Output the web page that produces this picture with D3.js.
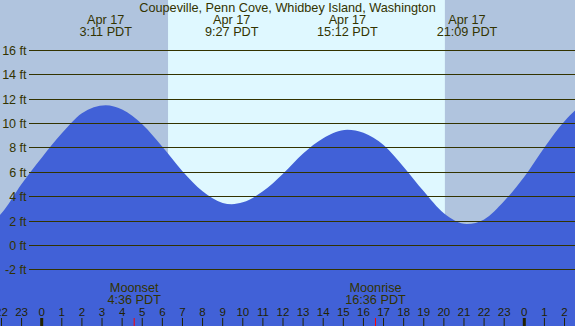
<!DOCTYPE html>
<html>
<head>
<meta charset="utf-8">
<script src="https://cdn.jsdelivr.net/npm/d3@7"></script>
<style>
  html, body { margin: 0; padding: 0; background: #fff; }
  svg { display: block; }
  text { font-family: "Liberation Sans", Arial, sans-serif; fill: #333300; }
</style>
</head>
<body>
<svg id="chart" width="575" height="326"></svg>
<script>
// ---- data (hours relative to Apr 17 00:00 PDT, heights in ft) ----
const title = "Coupeville, Penn Cove, Whidbey Island, Washington";
const hours   = [-3, -2, -1, 0, 1, 2, 3.183, 4, 5, 6, 7, 8, 9, 9.45, 10, 11, 12, 13, 14, 15.2, 16, 17, 18, 19, 20, 21.15, 22, 23, 24, 25, 26, 27, 27.87, 28.5];
const heights = [1.3, 2.6, 5.0, 7.15, 9.15, 10.8, 11.45, 11.1, 9.9, 8.05, 6.05, 4.4, 3.45, 3.35, 3.5, 4.4, 5.85, 7.5, 8.75, 9.45, 9.2, 8.2, 6.4, 4.4, 2.6, 1.72, 2.1, 3.6, 5.6, 8.0, 10.15, 11.5, 11.7, 11.4];
const extremeHours = [3.183, 9.45, 15.2, 21.15, 27.87];
const extremeDates = ["Apr 17", "Apr 17", "Apr 17", "Apr 17", "Apr 18"];
const extremeTimes = ["3:11 PDT", "9:27 PDT", "15:12 PDT", "21:09 PDT", "3:52 PDT"];
const moonHours = [4.6, 16.6];
const moonNames = ["Moonset", "Moonrise"];
const moonTimes = ["4:36 PDT", "16:36 PDT"];
const sunriseHour = 6.283;
const sunsetHour = 20.05;
const yTicks = [-2, 0, 2, 4, 6, 8, 10, 12, 14, 16];
const hourTicks = d3.range(-2, 29);

// ---- layout ----
const W = 575, H = 326;
const x = d3.scaleLinear().domain([0, 24]).range([41.7, 524.3]);
const y = d3.scaleLinear().domain([-2, 16]).range([269.4, 49.8]);

const svg = d3.select("#chart");

// background night / day
const nightColor = "#b0c4de", dayColor = "#dff8ff", waterColor = "#4161d7";
svg.append("rect").attr("x", 0).attr("y", 0).attr("width", W).attr("height", H).attr("fill", nightColor);
svg.append("rect")
  .attr("x", x(sunriseHour)).attr("y", 0)
  .attr("width", x(sunsetHour) - x(sunriseHour)).attr("height", H)
  .attr("fill", dayColor);

// water area
const pts = hours.map((h, i) => [h, heights[i]]);
const area = d3.area()
  .x(d => x(d[0]))
  .y0(H)
  .y1(d => y(d[1]))
  .curve(d3.curveMonotoneX);
svg.append("path").datum(pts).attr("d", area).attr("fill", waterColor);

// grid lines + y labels
const gy = svg.append("g");
yTicks.forEach(t => {
  const yy = Math.round(y(t)) + 0.5;
  gy.append("line").attr("x1", 29).attr("x2", W).attr("y1", yy).attr("y2", yy)
    .attr("stroke", "#333300").attr("stroke-width", 1);
  gy.append("text").attr("x", 26.5).attr("y", yy + 4.3)
    .attr("text-anchor", "end").style("font-size", "12.5px")
    .text(t + " ft");
});

// title
svg.append("text").attr("x", 287.5).attr("y", 11.5).attr("text-anchor", "middle")
  .style("font-size", "12.7px").text(title);

// extreme labels
extremeHours.forEach((h, i) => {
  svg.append("text").attr("x", x(h)).attr("y", 23.5).attr("text-anchor", "middle")
    .style("font-size", "12.7px").text(extremeDates[i]);
  svg.append("text").attr("x", x(h)).attr("y", 36).attr("text-anchor", "middle")
    .style("font-size", "12.7px").text(extremeTimes[i]);
});

// moon labels
moonHours.forEach((h, i) => {
  svg.append("text").attr("x", x(h)).attr("y", 292).attr("text-anchor", "middle")
    .style("font-size", "12.7px").text(moonNames[i]);
  svg.append("text").attr("x", x(h)).attr("y", 303.5).attr("text-anchor", "middle")
    .style("font-size", "12.7px").text(moonTimes[i]);
});

// hour ticks
const gx = svg.append("g");
hourTicks.forEach(h => {
  const xx = x(h);
  const mid = ((h % 24) + 24) % 24 === 0;
  gx.append("line").attr("x1", xx).attr("x2", xx).attr("y1", 318).attr("y2", H)
    .attr("stroke", "#222200").attr("stroke-width", mid ? 3 : 1);
  gx.append("text").attr("x", xx).attr("y", 316).attr("text-anchor", "middle")
    .style("font-size", "11.5px").style("fill", "#222200")
    .text(((h % 24) + 24) % 24);
});
moonHours.forEach(h => {
  gx.append("line").attr("x1", x(h)).attr("x2", x(h)).attr("y1", 318).attr("y2", H)
    .attr("stroke", "#ff0000").attr("stroke-width", 1);
});
</script>
</body>
</html>
